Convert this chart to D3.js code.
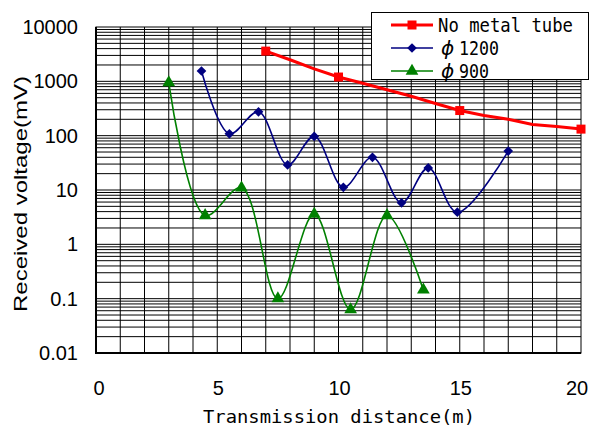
<!DOCTYPE html>
<html>
<head>
<meta charset="utf-8">
<script src="https://cdn.jsdelivr.net/npm/d3@7"></script>
<style>
  body { margin: 0; background: #fff; }
  svg { display: block; }
</style>
</head>
<body>
<div class="chart"></div>
<script>
// DATA ------------------------------------

const xTicks = [0, 5, 10, 15, 20];
const yTicks = [0.01, 0.1, 1, 10, 100, 1000, 10000];
const yTickLabels = ["0.01", "0.1", "1", "10", "100", "1000", "10000"];

// no metal tube (line through every metre, markers only at measured points)
const tubeX = [7, 8, 9, 10, 11, 12, 13, 14, 15, 16, 17, 18, 19, 20];
const tubeY = [3600, 2500, 1700, 1200, 920, 700, 530, 390, 290, 235, 200, 160, 148, 132];
const tubeMarkX = [7, 10, 15, 20];
const tubeMarkY = [3600, 1200, 290, 132];

const d1200X = [4.35, 5.5, 6.7, 7.9, 9.0, 10.2, 11.4, 12.6, 13.7, 14.9, 17.0];
const d1200Y = [1550, 108, 275, 29, 97, 11.2, 40, 5.8, 25.5, 3.9, 52];

const d900X = [3.0, 4.5, 6.0, 7.5, 9.0, 10.5, 12.0, 13.5];
const d900Y = [950, 3.4, 11, 0.1, 3.6, 0.063, 3.4, 0.145];

const legendLabels = ["No metal tube", "1200", "900"];
const legendPhi = [false, true, true];

// CHART INIT ------------------------------

const totalWidth = 595;
const totalHeight = 427;
const plot = { left: 96, top: 27, right: 581, bottom: 353 };

const svg = d3
  .select(".chart")
  .append("svg")
  .attr("width", totalWidth)
  .attr("height", totalHeight);

const xScale = d3.scaleLinear().domain([0, 20]).range([plot.left, plot.right]);
const yScale = d3.scaleLog().domain([0.01, 10000]).range([plot.bottom, plot.top]);

// grid lines
const grid = svg.append("g").attr("class", "grid");

grid
  .selectAll(".vgrid")
  .data(d3.range(1, 20))
  .enter()
  .append("line")
  .attr("x1", (d) => xScale(d))
  .attr("x2", (d) => xScale(d))
  .attr("y1", plot.top)
  .attr("y2", plot.bottom)
  .attr("stroke", "#000")
  .attr("stroke-width", 1);

const hValues = [];
for (let e = -2; e < 4; e++) {
  for (let m = 1; m <= 9; m++) {
    const v = m * Math.pow(10, e);
    if (v > 0.01) hValues.push(v);
  }
}

grid
  .selectAll(".hgrid")
  .data(hValues)
  .enter()
  .append("line")
  .attr("x1", plot.left)
  .attr("x2", plot.right)
  .attr("y1", (d) => yScale(d))
  .attr("y2", (d) => yScale(d))
  .attr("stroke", "#000")
  .attr("stroke-width", 1);

// frame
svg
  .append("rect")
  .attr("x", plot.left)
  .attr("y", plot.top)
  .attr("width", plot.right - plot.left)
  .attr("height", plot.bottom - plot.top)
  .attr("fill", "none")
  .attr("stroke", "#000")
  .attr("stroke-width", 1);

svg
  .append("line")
  .attr("x1", plot.left)
  .attr("x2", plot.left)
  .attr("y1", plot.top)
  .attr("y2", plot.bottom + 1)
  .attr("stroke", "#000")
  .attr("stroke-width", 2);

svg
  .append("line")
  .attr("x1", plot.left)
  .attr("x2", plot.right)
  .attr("y1", plot.bottom)
  .attr("y2", plot.bottom)
  .attr("stroke", "#000")
  .attr("stroke-width", 2);

// axes labels
svg
  .selectAll(".ylab")
  .data(yTicks)
  .enter()
  .append("text")
  .attr("x", 78)
  .attr("y", (d) => yScale(d) + 7)
  .attr("text-anchor", "end")
  .attr("font-family", "Liberation Sans, Arial, sans-serif")
  .attr("font-size", 20)
  .attr("fill", "#000")
  .text((d, i) => yTickLabels[i]);

svg
  .selectAll(".xlab")
  .data(xTicks)
  .enter()
  .append("text")
  .attr("x", (d) => (d === 0 ? xScale(d) + 3 : d === 20 ? xScale(d) - 4 : xScale(d) + 1))
  .attr("y", 395)
  .attr("text-anchor", "middle")
  .attr("font-family", "Liberation Sans, Arial, sans-serif")
  .attr("font-size", 20)
  .attr("fill", "#000")
  .text((d) => d);

svg
  .append("text")
  .attr("x", 339)
  .attr("y", 423)
  .attr("text-anchor", "middle")
  .attr("font-family", "DejaVu Sans Mono, monospace")
  .attr("font-size", 18)
  .attr("textLength", 272)
  .attr("lengthAdjust", "spacingAndGlyphs")
  .text("Transmission distance(m)");

svg
  .append("text")
  .attr("transform", "translate(27,194) rotate(-90)")
  .attr("text-anchor", "middle")
  .attr("font-family", "Liberation Sans, Arial, sans-serif")
  .attr("font-size", 19)
  .attr("textLength", 236)
  .attr("lengthAdjust", "spacingAndGlyphs")
  .text("Received voltage(mV)");

// SERIES ----------------------------------

const lineLinear = d3.line().x((d) => xScale(d[0])).y((d) => yScale(d[1]));
const lineSmooth = d3
  .line()
  .x((d) => xScale(d[0]))
  .y((d) => yScale(d[1]))
  .curve(d3.curveCatmullRom.alpha(0.5));

const zip = (xs, ys) => xs.map((x, i) => [x, ys[i]]);

// no metal tube
svg
  .append("path")
  .datum(zip(tubeX, tubeY))
  .attr("d", lineLinear)
  .attr("fill", "none")
  .attr("stroke", "#ff0000")
  .attr("stroke-width", 3);

const square = d3.symbol().type(d3.symbolSquare).size(81);
svg
  .selectAll(".sq")
  .data(zip(tubeMarkX, tubeMarkY))
  .enter()
  .append("path")
  .attr("d", square)
  .attr("transform", (d) => `translate(${xScale(d[0])},${yScale(d[1])})`)
  .attr("fill", "#ff0000");

// phi 1200
svg
  .append("path")
  .datum(zip(d1200X, d1200Y))
  .attr("d", lineSmooth)
  .attr("fill", "none")
  .attr("stroke", "#000080")
  .attr("stroke-width", 1.6);

const diamond = d3.symbol().type(d3.symbolDiamond2).size(60);
svg
  .selectAll(".dia")
  .data(zip(d1200X, d1200Y))
  .enter()
  .append("path")
  .attr("d", diamond)
  .attr("transform", (d) => `translate(${xScale(d[0])},${yScale(d[1])})`)
  .attr("fill", "#000080");

// phi 900
svg
  .append("path")
  .datum(zip(d900X, d900Y))
  .attr("d", lineSmooth)
  .attr("fill", "none")
  .attr("stroke", "#008000")
  .attr("stroke-width", 1.6);

const tri = d3.symbol().type(d3.symbolTriangle).size(70);
svg
  .selectAll(".tri")
  .data(zip(d900X, d900Y))
  .enter()
  .append("path")
  .attr("d", tri)
  .attr("transform", (d) => `translate(${xScale(d[0])},${yScale(d[1])})`)
  .attr("fill", "#008000");

// LEGEND ----------------------------------

const legend = svg.append("g").attr("class", "legend");

legend
  .append("rect")
  .attr("x", 371.5)
  .attr("y", 12.5)
  .attr("width", 217)
  .attr("height", 67)
  .attr("fill", "#fff")
  .attr("stroke", "#000")
  .attr("stroke-width", 1);

const legendColors = ["#ff0000", "#000080", "#008000"];
const legendWidths = [3, 1.6, 1.6];
const legendY = [25, 48, 71];
const legendShapes = [square, diamond, tri];

legendLabels.forEach((label, i) => {
  legend
    .append("line")
    .attr("x1", 391)
    .attr("x2", 433)
    .attr("y1", legendY[i])
    .attr("y2", legendY[i])
    .attr("stroke", legendColors[i])
    .attr("stroke-width", legendWidths[i]);
  legend
    .append("path")
    .attr("d", legendShapes[i])
    .attr("transform", `translate(412,${legendY[i]})`)
    .attr("fill", legendColors[i]);
  if (legendPhi[i]) {
    legend
      .append("text")
      .attr("x", 441)
      .attr("y", legendY[i] + 7)
      .attr("font-family", "DejaVu Sans, sans-serif")
      .attr("font-style", "italic")
      .attr("font-size", 20)
      .text("\u03d5");
    legend
      .append("text")
      .attr("x", 459)
      .attr("y", legendY[i] + 7)
      .attr("font-family", "DejaVu Sans Mono, monospace")
      .attr("font-size", 20)
      .attr("textLength", label.length * 10)
      .attr("lengthAdjust", "spacingAndGlyphs")
      .text(label);
  } else {
    legend
      .append("text")
      .attr("x", 438)
      .attr("y", legendY[i] + 7)
      .attr("font-family", "DejaVu Sans Mono, monospace")
      .attr("font-size", 20)
      .attr("textLength", 135)
      .attr("lengthAdjust", "spacingAndGlyphs")
      .text(label);
  }
});
</script>
</body>
</html>
